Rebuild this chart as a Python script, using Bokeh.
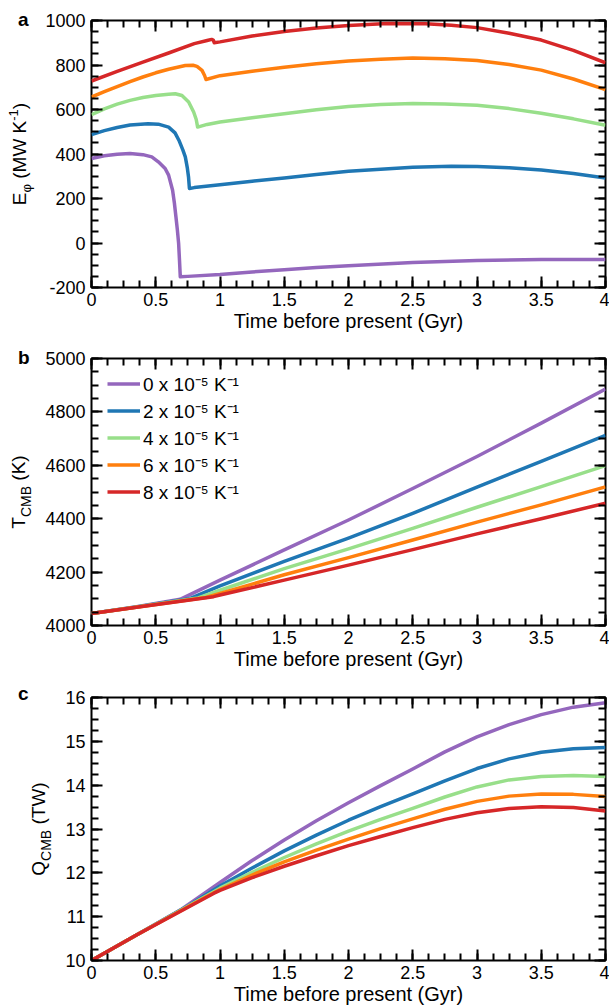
from bokeh.plotting import figure
from bokeh.models import (Range1d, FixedTicker, LinearAxis, NumeralTickFormatter,
                          CustomJSTickFormatter, Legend, LegendItem, Div)
from bokeh.layouts import column, row
from bokeh.embed import file_html
from bokeh.resources import INLINE

FONT = "Liberation Sans"
COLORS = ["#9467bd", "#1f77b4", "#98df8a", "#ff7f0e", "#d62728"]
LEGEND_LABELS = ["0 x 10\u207b\u2075 K\u207b\u00b9", "2 x 10\u207b\u2075 K\u207b\u00b9",
                 "4 x 10\u207b\u2075 K\u207b\u00b9", "6 x 10\u207b\u2075 K\u207b\u00b9",
                 "8 x 10\u207b\u2075 K\u207b\u00b9"]

X_TICKS = [0, 0.5, 1, 1.5, 2, 2.5, 3, 3.5, 4]
X_MINOR = [i * 0.125 for i in range(33)]
A_TICKS = [-200, 0, 200, 400, 600, 800, 1000]
A_MINOR = list(range(-200, 1001, 50))
B_TICKS = [4000, 4200, 4400, 4600, 4800, 5000]
B_MINOR = list(range(4000, 5001, 50))
C_TICKS = [10, 11, 12, 13, 14, 15, 16]
C_MINOR = [10 + i * 0.25 for i in range(25)]

# ---------------- panel a : E_phi (MW/K) ----------------
ta0 = [0, 0.1, 0.2, 0.3, 0.4, 0.469, 0.52, 0.573, 0.6, 0.631, 0.645, 0.657, 0.668, 0.678, 0.685, 0.691,
       0.75, 1.0, 1.25, 1.5, 1.75, 2.0, 2.5, 3.0, 3.5, 4.0]
ea0 = [380, 392, 399, 402, 397, 387, 365, 335, 305, 237, 180, 118, 60, -2, -80, -152,
       -150, -142, -130, -120, -110, -102, -88, -79, -74, -74]
ta2 = [0, 0.1, 0.2, 0.3, 0.44, 0.52, 0.6, 0.65, 0.68, 0.71, 0.73, 0.745, 0.755, 0.762,
       0.8, 1.0, 1.25, 1.5, 1.75, 2.0, 2.25, 2.5, 2.8, 3.0, 3.25, 3.5, 3.75, 4.0]
ea2 = [487, 505, 519, 530, 536, 534, 521, 495, 462, 420, 387, 340, 297, 245,
       249, 262, 278, 292, 308, 322, 332, 340, 345, 344, 338, 328, 312, 292]
ta4 = [0, 0.1, 0.2, 0.3, 0.4, 0.5, 0.6, 0.652, 0.704, 0.756, 0.795, 0.815, 0.826,
       0.9, 1.0, 1.25, 1.5, 1.75, 2.0, 2.25, 2.5, 2.75, 3.0, 3.25, 3.5, 3.75, 4.0]
ea4 = [577, 603, 624, 641, 654, 663, 669, 671, 663, 634, 589, 555, 521,
       533, 544, 563, 581, 599, 614, 622, 627, 625, 619, 604, 583, 558, 529]
ta6 = [0, 0.1, 0.2, 0.3, 0.4, 0.5, 0.6, 0.73, 0.79, 0.821, 0.86, 0.88, 0.891,
       1.0, 1.25, 1.5, 1.75, 2.0, 2.25, 2.5, 2.75, 3.0, 3.25, 3.5, 3.75, 4.0]
ea6 = [656, 680, 703, 725, 746, 765, 781, 798, 799, 794, 776, 753, 735,
       752, 772, 790, 806, 818, 826, 831, 828, 820, 802, 777, 737, 689]
ta8 = [0, 0.2, 0.4, 0.6, 0.8, 0.9, 0.935, 0.948, 0.955, 1.0, 1.25, 1.5, 1.75, 2.0, 2.3, 2.6,
       2.8, 3.0, 3.25, 3.5, 3.75, 4.0]
ea8 = [728, 771, 813, 854, 896, 910, 915, 912, 900, 904, 930, 951, 966, 978, 986, 985,
       979, 968, 943, 912, 866, 810]

# ---------------- panel b : T_CMB (K) ----------------
tb0 = [0, 0.35, 0.69, 1.0, 1.5, 2.0, 2.5, 3.0, 3.5, 4.0]
Tb0 = [4045, 4070, 4098, 4170, 4283, 4395, 4513, 4633, 4758, 4886]
tb2 = [0, 0.35, 0.76, 1.0, 1.5, 2.0, 2.5, 3.0, 3.5, 4.0]
Tb2 = [4045, 4069, 4100, 4148, 4240, 4327, 4420, 4518, 4615, 4712]
tb4 = [0, 0.35, 0.83, 1.0, 1.5, 2.0, 2.5, 3.0, 3.5, 4.0]
Tb4 = [4045, 4069, 4103, 4132, 4213, 4287, 4364, 4443, 4520, 4599]
tb6 = [0, 0.35, 0.89, 1.0, 1.5, 2.0, 2.5, 3.0, 3.5, 4.0]
Tb6 = [4045, 4068, 4105, 4120, 4190, 4254, 4320, 4387, 4452, 4519]
tb8 = [0, 0.35, 0.95, 1.0, 1.5, 2.0, 2.5, 3.0, 3.5, 4.0]
Tb8 = [4045, 4068, 4108, 4114, 4170, 4226, 4284, 4343, 4400, 4458]

# ---------------- panel c : Q_CMB (TW) ----------------
tc0 = [0, 0.35, 0.69, 1.0, 1.25, 1.5, 1.75, 2.0, 2.25, 2.5, 2.75, 3.0, 3.25, 3.5, 3.75, 4.0]
Qc0 = [10, 10.58, 11.15, 11.78, 12.28, 12.75, 13.19, 13.6, 13.99, 14.37, 14.76, 15.1, 15.38,
       15.61, 15.78, 15.88]
tc2 = [0, 0.35, 0.76, 1.0, 1.25, 1.5, 1.75, 2.0, 2.25, 2.5, 2.75, 3.0, 3.25, 3.5, 3.75, 4.0]
Qc2 = [10, 10.58, 11.26, 11.7, 12.11, 12.5, 12.86, 13.2, 13.51, 13.8, 14.1, 14.38, 14.6,
       14.75, 14.83, 14.86]
tc4 = [0, 0.35, 0.83, 1.0, 1.25, 1.5, 1.75, 2.0, 2.25, 2.5, 2.75, 3.0, 3.25, 3.5, 3.75, 4.0]
Qc4 = [10, 10.58, 11.37, 11.65, 12.01, 12.35, 12.66, 12.95, 13.22, 13.47, 13.73, 13.96, 14.12,
       14.2, 14.22, 14.2]
tc6 = [0, 0.35, 0.89, 1.0, 1.25, 1.5, 1.75, 2.0, 2.25, 2.5, 2.75, 3.0, 3.25, 3.5, 3.75, 4.0]
Qc6 = [10, 10.58, 11.45, 11.62, 11.95, 12.25, 12.52, 12.77, 13.01, 13.23, 13.45, 13.63, 13.75,
       13.8, 13.79, 13.74]
tc8 = [0, 0.35, 0.95, 1.0, 1.25, 1.5, 1.75, 2.0, 2.25, 2.5, 2.75, 3.0, 3.25, 3.5, 3.75, 4.0]
Qc8 = [10, 10.58, 11.53, 11.6, 11.89, 12.15, 12.39, 12.62, 12.83, 13.03, 13.22, 13.37, 13.47,
       13.51, 13.49, 13.41]

FW = 514
FRAME_LEFT = 91


def style_axis(ax):
    ax.axis_line_color = None
    ax.major_tick_in = 11
    ax.major_tick_out = 0
    ax.minor_tick_in = 7
    ax.minor_tick_out = 0
    ax.major_tick_line_width = 2
    ax.minor_tick_line_width = 2
    ax.major_tick_line_color = "black"
    ax.minor_tick_line_color = "black"
    ax.major_label_text_font = FONT
    ax.major_label_text_font_size = "18px"
    ax.major_label_text_color = "black"


def make_fig(fh, yr, yticks, yminor, left, top, bottom):
    p = figure(frame_width=FW, frame_height=fh, x_range=Range1d(0, 4), y_range=Range1d(*yr),
               output_backend="svg", toolbar_location=None, title=None,
               min_border_left=left, min_border_right=4, min_border_top=top, min_border_bottom=bottom)
    p.xgrid.visible = False
    p.ygrid.visible = False
    p.outline_line_color = "black"
    p.outline_line_width = 2
    p.outline_line_alpha = 1
    xt = FixedTicker(ticks=X_TICKS, minor_ticks=X_MINOR)
    yt = FixedTicker(ticks=yticks, minor_ticks=yminor)
    bx = p.xaxis[0]
    ly = p.yaxis[0]
    bx.ticker = xt
    ly.ticker = yt
    bx.formatter = NumeralTickFormatter(format="0.[0]")
    ly.formatter = NumeralTickFormatter(format="0")
    bx.axis_label = "Time before present (Gyr)"
    blank = CustomJSTickFormatter(code="return ''")
    tx = LinearAxis(ticker=xt, formatter=blank, major_label_standoff=0)
    ry = LinearAxis(ticker=yt, formatter=blank, major_label_standoff=0)
    p.add_layout(tx, "above")
    p.add_layout(ry, "right")
    for ax in (bx, ly, tx, ry):
        style_axis(ax)
    bx.major_label_standoff = 5
    ly.major_label_standoff = 6
    bx.axis_label_standoff = 1
    bx.axis_label_text_font = FONT
    bx.axis_label_text_font_size = "20px"
    bx.axis_label_text_font_style = "normal"
    bx.axis_label_text_color = "black"
    return p


def side_div(width, height, letter, letter_baseline, label_html, baseline_x, center_y):
    """HTML strip left of a panel: bold panel letter and rotated y-axis title."""
    font = f"font-family:'{FONT}'; color:black; white-space:nowrap;"
    html = (
        f'<div style="position:relative; width:{width}px; height:{height}px;">'
        f'<div style="position:absolute; left:18px; top:{letter_baseline - 16.6}px; height:20px; '
        f'line-height:20px; font-size:19px; font-weight:bold; {font}">{letter}</div>'
        f'<div style="position:absolute; left:{baseline_x - 6.6}px; top:{center_y}px; height:20px; '
        f'line-height:20px; font-size:19px; {font} '
        f'transform: translate(-50%, -50%) rotate(-90deg);">{label_html}</div>'
        f'</div>')
    return Div(text=html, width=width, height=height, margin=0)


def sub(t, size=13, dy=-6):
    return f'<span style="font-size:{size}px; vertical-align:{dy}px; line-height:0;">{t}</span>'


def sup(t, size=13, dy=8):
    return f'<span style="font-size:{size}px; vertical-align:{dy}px; line-height:0;">{t}</span>'


# ---- geometry (canvas pixels) ----
HA_TOP, HA_FR, HA_BOT = 20, 267, 53
HB_TOP, HB_FR, HB_BOT = 18, 267, 55
HC_TOP, HC_FR, HC_BOT = 17, 263, 47
LW_A, LW_B, LW_C = 40, 42, 62

# panel a
YA = (-200, 1000)
pa = make_fig(HA_FR, YA, A_TICKS, A_MINOR, FRAME_LEFT - LW_A, HA_TOP, HA_BOT)
for t, e, c in zip([ta0, ta2, ta4, ta6, ta8], [ea0, ea2, ea4, ea6, ea8], COLORS):
    pa.line(t, e, line_color=c, line_width=3.5, line_join="round")
da = side_div(LW_A, HA_TOP + HA_FR + HA_BOT, "a", 27,
              "E" + sub("\u03c6", 13, -5) + " (MW K" + sup("-1") + ")", 27, HA_TOP + HA_FR / 2)

# panel b
YB = (4000, 5000)
pb = make_fig(HB_FR, YB, B_TICKS, B_MINOR, FRAME_LEFT - LW_B, HB_TOP, HB_BOT)
rends = []
for t, v, c in zip([tb0, tb2, tb4, tb6, tb8], [Tb0, Tb2, Tb4, Tb6, Tb8], COLORS):
    rends.append(pb.line(t, v, line_color=c, line_width=3.5, line_join="round"))
db = side_div(LW_B, HB_TOP + HB_FR + HB_BOT, "b", 25,
              "T" + sub("CMB", 14, -6) + " (K)", 26, HB_TOP + HB_FR / 2)
leg = Legend(items=[LegendItem(label=l, renderers=[r]) for l, r in zip(LEGEND_LABELS, rends)],
             location=(16, 120), padding=0, spacing=0, margin=0,
             glyph_width=33, glyph_height=27, label_height=27, label_standoff=3,
             label_text_font=FONT, label_text_font_size="19px", label_text_color="black",
             border_line_color=None, background_fill_alpha=0)
pb.add_layout(leg)

# panel c
YC = (10, 16)
pc = make_fig(HC_FR, YC, C_TICKS, C_MINOR, FRAME_LEFT - LW_C, HC_TOP, HC_BOT)
for t, q_, c in zip([tc0, tc2, tc4, tc6, tc8], [Qc0, Qc2, Qc4, Qc6, Qc8], COLORS):
    pc.line(t, q_, line_color=c, line_width=3.5, line_join="round")
dc = side_div(LW_C, HC_TOP + HC_FR + HC_BOT, "c", 21,
              "Q" + sub("CMB", 14, -6) + " (TW)", 46, HC_TOP + HC_FR / 2)

layout = column(row(da, pa, spacing=0), row(db, pb, spacing=0), row(dc, pc, spacing=0), spacing=0)
open("out.html", "w").write(file_html(layout, INLINE))
